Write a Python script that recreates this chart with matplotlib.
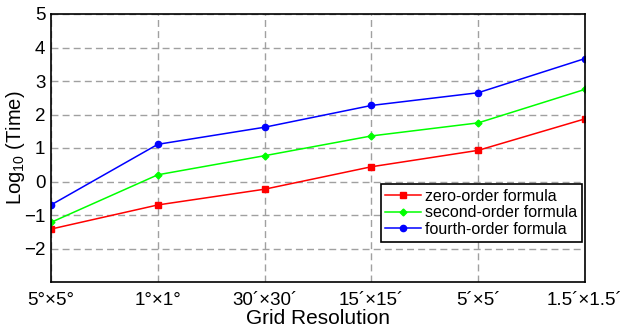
import numpy as np
import matplotlib
matplotlib.use("Agg")
import matplotlib.pyplot as plt

plt.rcParams['font.family'] = ['Liberation Sans', 'DejaVu Sans']
plt.rcParams['mathtext.default'] = 'regular'

# grid resolutions (x axis)
resolutions = ["5°×5°", "1°×1°", "30´×30´", "15´×15´", "5´×5´", "1.5´×1.5´"]

# log10 of computation time
zero_order = [-1.42, -0.70, -0.23, 0.44, 0.93, 1.87]
second_order = [-1.22, 0.20, 0.77, 1.36, 1.75, 2.75]
fourth_order = [-0.70, 1.11, 1.62, 2.27, 2.65, 3.67]

fig = plt.figure(figsize=(6.22, 3.29), dpi=100)
ax = fig.add_axes([51 / 622, 1 - 282 / 329, 534 / 622, 268 / 329])

x = np.arange(len(resolutions))
ax.plot(x, zero_order, color='#ff0000', marker='s', ms=5, lw=1.1,
        label='zero-order formula')
ax.plot(x, second_order, color='#00ff00', marker='D', ms=3.5, lw=1.1,
        label='second-order formula')
ax.plot(x, fourth_order, color='#0000ff', marker='o', ms=4.5, lw=1.1,
        label='fourth-order formula')

ax.set_xlim(0, 5)
ax.set_ylim(-3, 5)
ax.set_xticks(x)
ax.set_xticklabels(resolutions)
ax.set_yticks(np.arange(-2, 6))
ax.grid(True, color='#a0a0a0', linestyle=(0, (5, 3)), lw=1)
ax.tick_params(direction='in', length=0, labelsize=13.5)
ax.tick_params(axis='x', pad=7)
ax.tick_params(axis='y', pad=4)
for s in ax.spines.values():
    s.set_linewidth(1.2)

ax.set_xlabel('Grid Resolution', fontsize=15, labelpad=0)
ax.set_ylabel('Log$_{10}$ (Time)', fontsize=14.5)
ax.yaxis.set_label_coords(-0.045, 0.5)

leg = ax.legend(loc='lower right', bbox_to_anchor=(0.995, 0.15), fontsize=11.5,
                fancybox=False, framealpha=1, edgecolor='black',
                handlelength=2.2, handletextpad=0.3, borderpad=0.3,
                labelspacing=0.1, borderaxespad=0)
leg.get_frame().set_linewidth(1.2)

fig.savefig('out.png', dpi=100)
